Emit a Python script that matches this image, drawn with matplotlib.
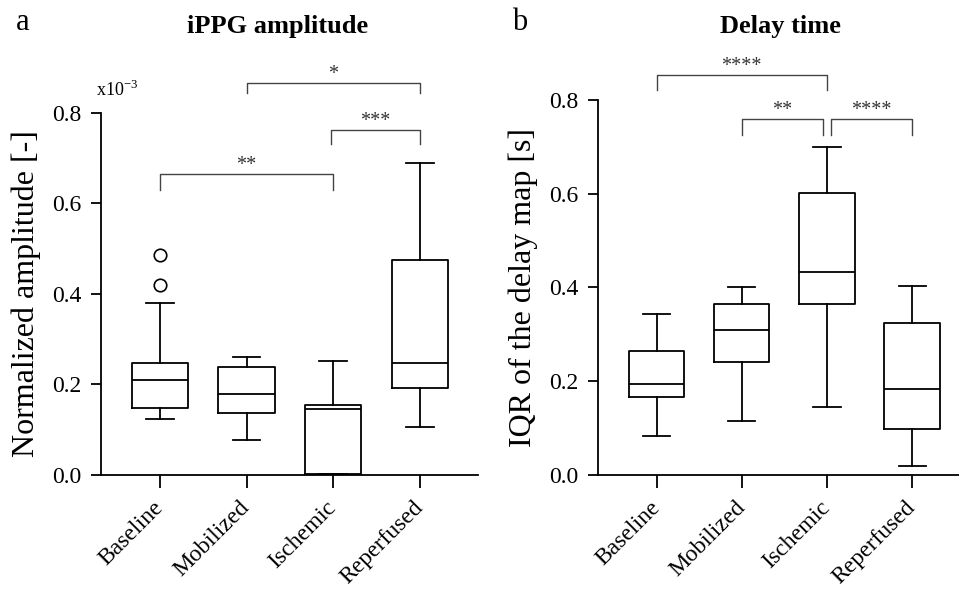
import matplotlib
matplotlib.use("Agg")
import matplotlib.pyplot as plt

plt.rcParams['font.family'] = ['Liberation Serif', 'DejaVu Serif']

categories = ["Baseline", "Mobilized", "Ischemic", "Reperfused"]

# panel a: iPPG amplitude (x10^-3) -- whisker low, q1, median, q3, whisker high
amp_whislo = [0.123, 0.078, 0.002, 0.105]
amp_q1 = [0.149, 0.136, 0.002, 0.192]
amp_med = [0.210, 0.180, 0.145, 0.248]
amp_q3 = [0.247, 0.238, 0.155, 0.475]
amp_whishi = [0.380, 0.261, 0.252, 0.690]
amp_fliers = [[0.486, 0.419], [], [], []]

# panel b: IQR of the delay map [s]
dly_whislo = [0.0825, 0.1145, 0.144, 0.020]
dly_q1 = [0.166, 0.242, 0.365, 0.0975]
dly_med = [0.195, 0.310, 0.432, 0.183]
dly_q3 = [0.2645, 0.365, 0.602, 0.324]
dly_whishi = [0.344, 0.400, 0.700, 0.404]
dly_fliers = [[], [], [], []]

# significance brackets: (x1, x2, y line, y drop, label)
amp_sig = [(2, 4, 0.867, 0.844, "*"),
           (2.98, 4, 0.762, 0.731, "***"),
           (1, 3, 0.665, 0.630, "**")]
dly_sig = [(1, 3, 0.853, 0.821, "****"),
           (2, 2.95, 0.759, 0.725, "**"),
           (3.05, 4, 0.759, 0.725, "****")]


def make_stats(lo, q1, med, q3, hi, fl):
    return [dict(whislo=lo[i], q1=q1[i], med=med[i], q3=q3[i], whishi=hi[i],
                 fliers=fl[i], label=categories[i]) for i in range(len(categories))]


def draw_panel(ax, stats, sigs, ylabel, xlim, labelpad):
    lw = 1.3
    ax.bxp(stats, positions=[1, 2, 3, 4], widths=0.65, showfliers=True,
           boxprops=dict(color='black', linewidth=lw),
           medianprops=dict(color='black', linewidth=lw),
           whiskerprops=dict(color='black', linewidth=lw),
           capprops=dict(color='black', linewidth=lw),
           capwidths=0.32,
           flierprops=dict(marker='o', markerfacecolor='white', markeredgecolor='black',
                           markersize=9, markeredgewidth=1.2))
    ax.set_xlim(*xlim)
    ax.set_ylim(0, 0.8)
    ax.set_yticks([0.0, 0.2, 0.4, 0.6, 0.8])
    ax.set_yticklabels(["0.0", "0.2", "0.4", "0.6", "0.8"])
    ax.set_xticks([1, 2, 3, 4])
    ax.set_xticklabels(categories, rotation=45, ha='right', va='center',
                       rotation_mode='anchor')
    ax.tick_params(axis='both', direction='out', width=1.3, labelsize=17)
    ax.tick_params(axis='y', length=7, pad=7)
    ax.tick_params(axis='x', length=9, pad=12)
    for s in ['top', 'right']:
        ax.spines[s].set_visible(False)
    for s in ['left', 'bottom']:
        ax.spines[s].set_linewidth(1.3)
    ax.set_ylabel(ylabel, fontsize=23, labelpad=labelpad)

    for x1, x2, yl, yd, lab in sigs:
        ax.plot([x1, x1, x2, x2], [yd, yl, yl, yd], color='#444444', linewidth=1.0,
                clip_on=False)
        ax.text((x1 + x2) / 2, yl - 0.002, lab, ha='center', va='bottom',
                fontsize=14.5, color='#333333', clip_on=False)


fig = plt.figure(figsize=(9.59, 5.95), dpi=100)
ax1 = fig.add_axes([0.1053, 0.2017, 0.393, 0.6084])
ax2 = fig.add_axes([0.6236, 0.2017, 0.3764, 0.6303])

draw_panel(ax1, make_stats(amp_whislo, amp_q1, amp_med, amp_q3, amp_whishi, amp_fliers),
           amp_sig, "Normalized amplitude [-]", (0.32, 4.67), 8)
draw_panel(ax2, make_stats(dly_whislo, dly_q1, dly_med, dly_q3, dly_whishi, dly_fliers),
           dly_sig, "IQR of the delay map [s]", (0.313, 4.55), 8)

ax1.text(-0.012, 1.035, r"x10$^{\mathregular{-3}}$", transform=ax1.transAxes,
         fontsize=13, ha='left', va='bottom')

fig.text(278 / 959, 1 - 27 / 595, "iPPG amplitude", ha='center', va='center',
         fontsize=19, fontweight='bold')
fig.text(780 / 959, 1 - 27 / 595, "Delay time", ha='center', va='center',
         fontsize=19, fontweight='bold')
fig.text(23 / 959, 1 - 23 / 595, "a", ha='center', va='center', fontsize=22)
fig.text(520 / 959, 1 - 23 / 595, "b", ha='center', va='center', fontsize=22)

fig.savefig("out.png", dpi=100)
